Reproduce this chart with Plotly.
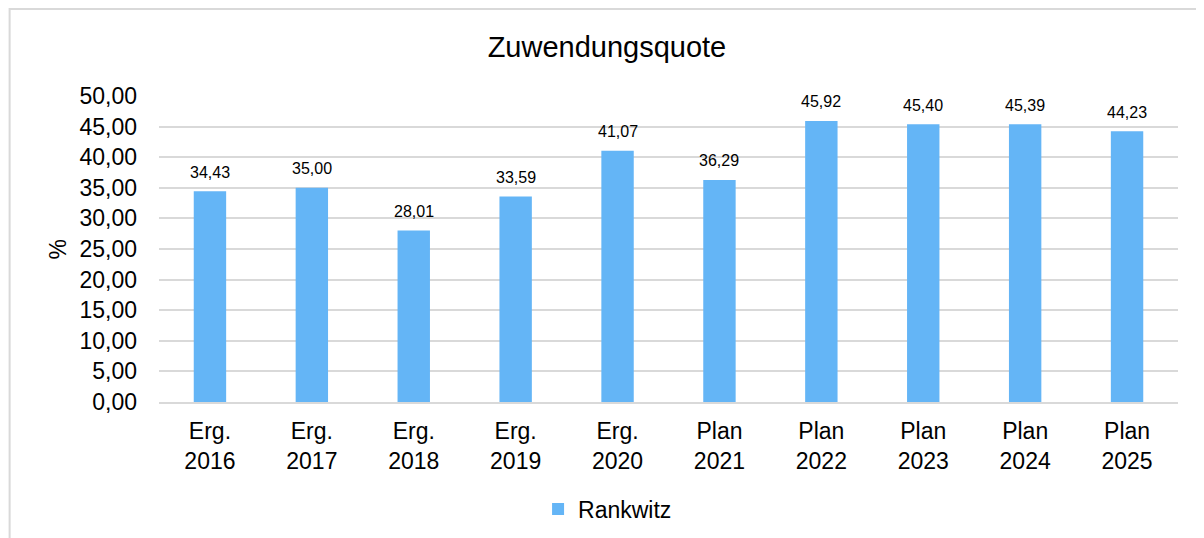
import plotly.graph_objects as go

categories = ["Erg.<br>2016", "Erg.<br>2017", "Erg.<br>2018", "Erg.<br>2019", "Erg.<br>2020",
              "Plan<br>2021", "Plan<br>2022", "Plan<br>2023", "Plan<br>2024", "Plan<br>2025"]
values = [34.43, 35.00, 28.01, 33.59, 41.07, 36.29, 45.92, 45.40, 45.39, 44.23]
series_name = "Rankwitz"
title_text = "Zuwendungsquote"
y_title = "%"
y_ticks = [0, 5, 10, 15, 20, 25, 30, 35, 40, 45, 50]

FONT = "Liberation Sans, Arial, Helvetica, sans-serif"
BAR_COLOR = "#64B5F6"
GRID = "#d9d9d9"

fig = go.Figure()
fig.add_trace(go.Bar(
    x=categories, y=values, name=series_name,
    marker=dict(color=BAR_COLOR, line=dict(width=0)),
    showlegend=True,
))

for c, v in zip(categories, values):
    fig.add_annotation(
        x=c, y=v, xref="x", yref="y",
        text=f"{v:.2f}".replace(".", ","),
        showarrow=False, yanchor="middle", yshift=19,
        font=dict(family=FONT, size=16, color="#000000"),
    )

# y-axis title
fig.add_annotation(
    x=-0.0995, y=0.497, xref="paper", yref="paper",
    xanchor="center", yanchor="middle",
    text=y_title, textangle=-90, showarrow=False,
    font=dict(family=FONT, size=23, color="#000000"),
)

# chart frame
fig.add_shape(type="rect", xref="paper", yref="paper",
              x0=-0.1466, x1=1.06, y0=-0.6, y1=1.284,
              line=dict(color=GRID, width=2), fillcolor="rgba(0,0,0,0)", layer="below")

fig.update_layout(
    width=1196, height=530,
    margin=dict(l=150.5, r=25.5, t=88, b=136, autoexpand=False),
    paper_bgcolor="white", plot_bgcolor="white",
    separators=",.",
    font=dict(family=FONT, color="#000000"),
    title=dict(text=title_text, x=0.5008, xanchor="center", xref="container",
               y=1 - 39 / 530, yanchor="middle", yref="container",
               font=dict(family=FONT, size=29, color="#000000")),
    bargap=0.682,
    legend=dict(orientation="h", x=0.372, xanchor="left",
                y=1 - 501 / 530, yanchor="middle", yref="container",
                font=dict(family=FONT, size=23, color="#000000"),
                itemwidth=30),
    xaxis=dict(showgrid=False, showline=True, linecolor=GRID, linewidth=2,
               ticks="", tickfont=dict(family=FONT, size=23, color="#000000"),
               ticklabelstandoff=7, fixedrange=True),
    yaxis=dict(range=[0, 50], tickvals=y_ticks, tickformat=".2f",
               showgrid=True, gridcolor=GRID, gridwidth=2, zeroline=False,
               showline=False, ticks="",
               tickfont=dict(family=FONT, size=23, color="#000000"),
               ticklabelstandoff=21, fixedrange=True),
)

fig.write_html("out.html")
